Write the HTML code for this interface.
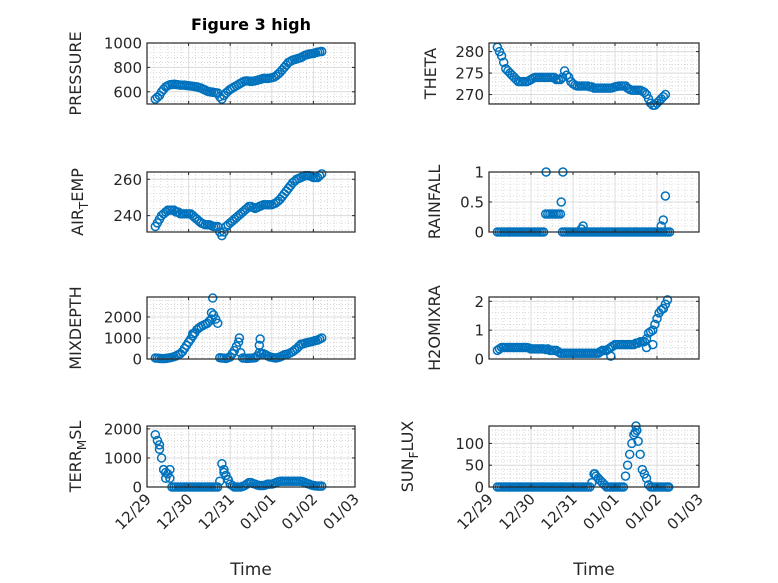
<!DOCTYPE html>
<html><head><meta charset="utf-8"><style>
body{margin:0;background:#fff}
svg{display:block;font-family:"DejaVu Sans","Liberation Sans",sans-serif}
</style></head><body>
<svg id="fig" width="778" height="583" viewBox="0 0 778 583">
<rect width="778" height="583" fill="#fff"/>
<text x="251" y="30" text-anchor="middle" font-size="16" font-weight="bold" fill="#000">Figure 3 high</text>
</svg>
<script>
const T = [0.2,0.25,0.3,0.35,0.4,0.45,0.5,0.55,0.6,0.65,
0.7,0.75,0.8,0.85,0.9,0.95,1.0,1.05,1.1,1.15,
1.2,1.25,1.3,1.35,1.4,1.45,1.5,1.55,1.6,1.65,
1.7,1.75,1.8,1.85,1.9,1.95,2.0,2.05,2.1,2.15,
2.2,2.25,2.3,2.35,2.4,2.45,2.5,2.55,2.6,2.65,
2.7,2.75,2.8,2.85,2.9,2.95,3.0,3.05,3.1,3.15,
3.2,3.25,3.3,3.35,3.4,3.45,3.5,3.55,3.6,3.65,
3.7,3.75,3.8,3.85,3.9,3.95,4.0,4.05,4.1,4.15,
4.2];
const xTickLabels = ["12/29","12/30","12/31","01/01","01/02","01/03"];
const pressure = [540,555,570,600,620,640,650,658,660,662,
660,658,655,655,655,652,650,648,645,642,
640,635,630,622,615,605,600,598,595,592,
590,560,540,570,590,605,620,630,640,650,
660,670,680,688,690,688,685,687,690,695,
700,705,710,710,710,712,715,720,730,745,
760,780,800,820,840,850,860,865,870,875,
880,890,900,905,910,912,915,920,925,928,
930];
const airTemp = [234,236,238,240,241,242,243,243,243,243,
242,242,241,241,241,241,241,241,240,239,
238,237,236,235.5,235,235,235,234.5,234,234,
234,231,229,231,234,235,236,237,238,239,
240,241,242,243,244,245,245,244.5,244,244.5,
245,245.5,246,246,246,246,246,246.5,247,248,
249,250.5,252,253.5,255,256.5,258,259,260,260.5,
261,261.5,262,262,262,261.5,261,261,261,262,
263];
const theta = [281,280,279,277.5,276,275.5,275,274.5,274,273.5,
273,273,273,273,273,273.2,273.5,273.8,274,274,
274,274,274,274,274,274,274,274,273.5,273.5,
273.5,274,275.5,274.5,274,273,272.5,272.2,272,272,
272,272,272,272,271.8,271.8,271.5,271.5,271.5,271.5,
271.5,271.5,271.5,271.5,271.5,271.6,271.8,271.9,272,272,
272,272,271.5,271.2,271,271,271,271,271,270.8,
270.5,270,269,268,267.5,267.5,268,268.5,269,269.5,
270];
const rainfall = [0,0,0,0,0,0,0,0,0,0,
0,0,0,0,0,0,0,0,0,0,
0,0,0,0.3,0.3,0.3,0.3,0.3,0.3,0.3,
0.3,0,0,0,0,0,0,0,0,0,
0,0,0,0,0,0,0,0,0,0,
0,0,0,0,0,0,0,0,0,0,
0,0,0,0,0,0,0,0,0,0,
0,0,0,0,0,0,0,0,0,0,
0];
const mixDepth = [50,40,30,25,20,30,40,60,80,110,
150,200,250,350,500,650,800,950,1100,1250,
1400,1480,1550,1600,1650,1700,1800,1900,2100,1900,
1700,60,50,40,30,60,100,250,400,600,
800,300,50,40,30,35,40,50,60,150,
300,250,250,200,150,100,80,60,50,70,
100,150,200,220,250,300,350,420,500,600,
700,720,750,780,800,820,850,880,900,950,
1000];
const h2oMix = [0.3,0.35,0.4,0.4,0.4,0.4,0.4,0.4,0.4,0.4,
0.4,0.4,0.4,0.4,0.4,0.38,0.35,0.35,0.35,0.35,
0.35,0.35,0.35,0.33,0.35,0.3,0.3,0.3,0.3,0.25,
0.2,0.2,0.2,0.2,0.2,0.2,0.2,0.2,0.2,0.2,
0.2,0.2,0.2,0.2,0.2,0.2,0.2,0.2,0.2,0.25,
0.3,0.3,0.3,0.35,0.4,0.45,0.5,0.5,0.5,0.5,
0.5,0.5,0.5,0.5,0.5,0.5,0.55,0.55,0.6,0.6,
0.6,0.7,0.9,0.95,1.0,1.2,1.4,1.6,1.7,1.75,
1.9];
const terrMsl = [1800,1600,1450,1000,600,500,450,300,0,0,
0,0,0,0,0,0,0,0,0,0,
0,0,0,0,0,0,0,0,0,0,
0,200,800,600,400,250,100,50,0,0,
0,0,20,50,100,150,150,120,100,70,
50,50,50,70,100,100,100,120,150,180,
200,200,200,200,200,200,200,200,200,200,
200,180,150,120,100,70,50,40,30,30,
30];
const sunFlux = [0,0,0,0,0,0,0,0,0,0,
0,0,0,0,0,0,0,0,0,0,
0,0,0,0,0,0,0,0,0,0,
0,0,0,0,0,0,0,0,0,0,
0,0,0,0,0,10,30,25,20,15,
10,5,0,0,0,0,0,0,0,0,
0,25,50,75,100,120,140,105,75,40,
30,20,5,0,0,0,0,0,0,0,
0];
const rainExtraT = [1.36,1.76,1.72,2.24,4.1,4.15,4.2,4.25,4.3,2.2];
const rainExtraV = [1,1,0.5,0.1,0.1,0.2,0.6,0,0,0.05];
const mixExtraT = [1.58,1.55,2.22,2.72,2.7,1.1];
const mixExtraV = [2900,2200,1000,950,650,1200];
const h2oExtraT = [4.25,3.9,3.75,2.9,4.15];
const h2oExtraV = [2.05,0.5,0.4,0.1,1.75];
const terrExtraT = [0.3,0.4,0.45,0.55,1.85,1.95];
const terrExtraV = [1300,600,300,600,500,250];
const sunExtraT = [3.48,3.52,4.25,4.28,2.52];
const sunExtraV = [125,130,0,0,30];

const NS = "http://www.w3.org/2000/svg";
const svg = document.getElementById("fig");
function mk(tag, attrs, parent){const e=document.createElementNS(NS,tag);for(const k in attrs)e.setAttribute(k,attrs[k]);(parent||svg).appendChild(e);return e;}

const panels = [
 {name:"pressure",x0:147,x1:355,y0:43,y1:104,ymin:500,ymax:1000,ticks:[600,800,1000],lab:["PRESSURE"],lx:81,v:pressure,et:[],ev:[],xl:false},
 {name:"theta",x0:489,x1:699,y0:43,y1:104,ymin:267.8,ymax:282,ticks:[270,275,280],lab:["THETA"],lx:436,v:theta,et:[],ev:[],xl:false},
 {name:"air-temp",x0:147,x1:355,y0:172,y1:232,ymin:231,ymax:264,ticks:[240,260],lab:["AIR","T","EMP"],lx:83,v:airTemp,et:[],ev:[],xl:false},
 {name:"rainfall",x0:489,x1:699,y0:172,y1:232,ymin:0,ymax:1,ticks:[0,0.5,1],lab:["RAINFALL"],lx:440,v:rainfall,et:rainExtraT,ev:rainExtraV,xl:false},
 {name:"mixdepth",x0:147,x1:355,y0:297,y1:359,ymin:0,ymax:2950,ticks:[0,1000,2000],lab:["MIXDEPTH"],lx:81,v:mixDepth,et:mixExtraT,ev:mixExtraV,xl:false},
 {name:"h2omixra",x0:489,x1:699,y0:297,y1:359,ymin:0,ymax:2.15,ticks:[0,1,2],lab:["H2OMIXRA"],lx:440,v:h2oMix,et:h2oExtraT,ev:h2oExtraV,xl:false},
 {name:"terr-msl",x0:147,x1:355,y0:426,y1:487,ymin:0,ymax:2100,ticks:[0,1000,2000],lab:["TERR","M","SL"],lx:81,v:terrMsl,et:terrExtraT,ev:terrExtraV,xl:true},
 {name:"sun-flux",x0:489,x1:699,y0:426,y1:487,ymin:0,ymax:140,ticks:[0,50,100],lab:["SUN","F","LUX"],lx:413,v:sunFlux,et:sunExtraT,ev:sunExtraV,xl:true}
];

panels.forEach(p=>{
  const g = mk("g",{});
  
  
  const xs = t => p.x0 + (t/5)*(p.x1-p.x0);
  const ys = v => p.y1 - (v-p.ymin)/(p.ymax-p.ymin)*(p.y1-p.y0);
  mk("rect",{x:p.x0,y:p.y0,width:p.x1-p.x0,height:p.y1-p.y0,fill:"#fff"},g);
  for(let d=0; d<5; d++) for(let k=1;k<6;k++){
    const x=xs(d+k/6);
    mk("line",{x1:x,x2:x,y1:p.y0,y2:p.y1,stroke:"#c0c0c0","stroke-width":0.6,"stroke-dasharray":"1 2"},g);
  }
  const step = p.ticks[1]-p.ticks[0];
  for(let v=p.ticks[0]-step; v<=p.ymax+1e-9; v+=step/5){
    if(v<p.ymin-1e-9) continue;
    const y=ys(v);
    mk("line",{x1:p.x0,x2:p.x1,y1:y,y2:y,stroke:"#c0c0c0","stroke-width":0.6,"stroke-dasharray":"1 2"},g);
  }
  for(let d=1; d<5; d++){const x=xs(d);mk("line",{x1:x,x2:x,y1:p.y0,y2:p.y1,stroke:"#dcdcdc","stroke-width":1},g);}
  p.ticks.forEach(v=>{const y=ys(v);mk("line",{x1:p.x0,x2:p.x1,y1:y,y2:y,stroke:"#dcdcdc","stroke-width":1},g);});
  const pts = mk("g",{fill:"none",stroke:"#0072BD","stroke-width":1.5},g);
  
  
  const allT = T.concat(p.et), allV = p.v.concat(p.ev);
  for(let i=0;i<allT.length;i++){
    const c = mk("circle",{cx:xs(allT[i]),cy:ys(allV[i]),r:4},pts);
    
    
  }
  mk("rect",{x:p.x0,y:p.y0,width:p.x1-p.x0,height:p.y1-p.y0,fill:"none",stroke:"#262626","stroke-width":1.2},g);
  for(let d=1; d<5; d++){const x=xs(d);
    mk("line",{x1:x,x2:x,y1:p.y1,y2:p.y1-3,stroke:"#262626"},g);
    mk("line",{x1:x,x2:x,y1:p.y0,y2:p.y0+3,stroke:"#262626"},g);}
  p.ticks.forEach(v=>{const y=ys(v);
    mk("line",{x1:p.x0,x2:p.x0+3,y1:y,y2:y,stroke:"#262626"},g);
    mk("line",{x1:p.x1,x2:p.x1-3,y1:y,y2:y,stroke:"#262626"},g);
    const t = mk("text",{x:p.x0-5,y:y+5.5,"text-anchor":"end","font-size":15,fill:"#262626"},g);
    t.textContent = String(v);
    
    
  });
  const yc=(p.y0+p.y1)/2;
  const lab = mk("text",{x:0,y:0,transform:`translate(${p.lx},${yc}) rotate(-90)`,"text-anchor":"middle","font-size":16,fill:"#262626"},g);
  
  
  if(p.lab.length===1){lab.textContent=p.lab[0];}
  else{
    const a=mk("tspan",{},lab);a.textContent=p.lab[0];
    const b=mk("tspan",{dy:5,"font-size":12},lab);b.textContent=p.lab[1];
    const c=mk("tspan",{dy:-5},lab);c.textContent=p.lab[2];
  }
  if(p.xl){
    xTickLabels.forEach((s,d)=>{
      const x=xs(d);
      const t=mk("text",{x:0,y:0,transform:`translate(${x+5},${p.y1+13}) rotate(-45)`,"text-anchor":"end","font-size":15,fill:"#262626"},g);
      t.textContent=s;
      
      
    });
    const xt=mk("text",{x:(p.x0+p.x1)/2,y:575,"text-anchor":"middle","font-size":17,fill:"#262626"},g);
    xt.textContent="Time";
    
    
  }
});
</script>
</body></html>
